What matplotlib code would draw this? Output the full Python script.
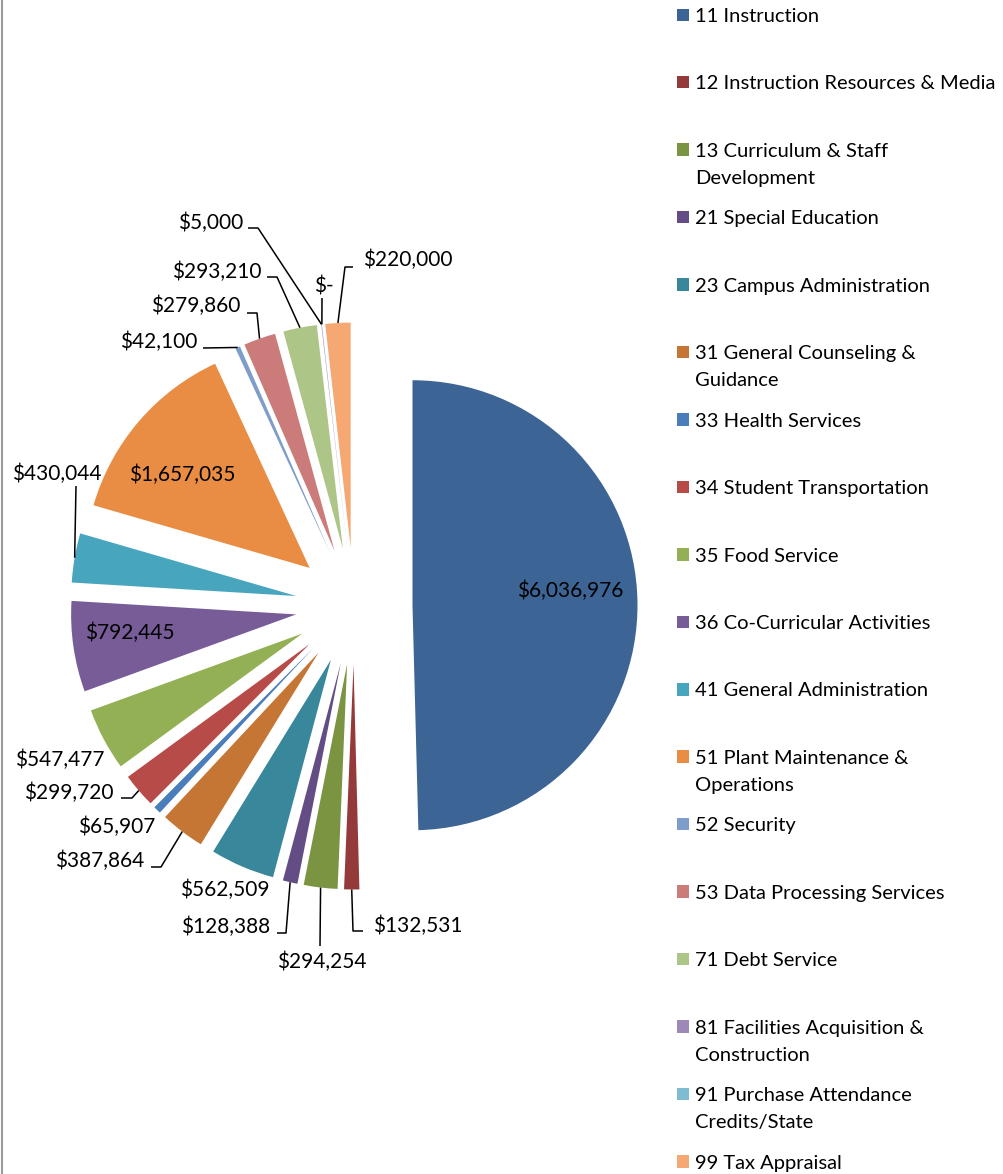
import matplotlib
matplotlib.use("Agg")
import matplotlib.pyplot as plt
import numpy as np
from matplotlib.patches import Rectangle
from matplotlib.lines import Line2D

# ---- data -------------------------------------------------------------
categories = [
    "11 Instruction",
    "12 Instruction Resources & Media",
    "13 Curriculum & Staff\nDevelopment",
    "21 Special Education",
    "23 Campus Administration",
    "31 General Counseling &\nGuidance",
    "33 Health Services",
    "34 Student Transportation",
    "35 Food Service",
    "36 Co-Curricular Activities",
    "41 General Administration",
    "51 Plant Maintenance &\nOperations",
    "52 Security",
    "53 Data Processing Services",
    "71 Debt Service",
    "81 Facilities Acquisition &\nConstruction",
    "91 Purchase Attendance\nCredits/State",
    "99 Tax Appraisal",
]
values = [
    6036976, 132531, 294254, 128388, 562509, 387864, 65907, 299720,
    547477, 792445, 430044, 1657035, 42100, 279860, 293210, 5000, 0, 220000,
]
colors = [
    "#3C6494", "#953A3A", "#7A9441", "#634D84", "#38879A", "#C57634",
    "#4A7EBB", "#B64B48", "#93B054", "#785C98", "#48A5BE", "#E88D43",
    "#7F9DCB", "#CB7B7A", "#ADC688", "#9C89B7", "#7DBCD1", "#F5A872",
]

FONT = "Lato"
FS_LEGEND = 14.5
FS_LABEL = 15.0

W, H = 1004, 1174
CX, CY, R = 354.0, 606.0, 225.0   # pie centre and radius in pixels


def px(x, y):
    """Pixel position (from top-left) -> data coordinates."""
    return (x - CX) / R, (CY - y) / R


fig = plt.figure(figsize=(W / 100, H / 100), dpi=100)
ax = fig.add_axes([0, 0, 1, 1])
ax.axis("off")

wedges, _ = ax.pie(
    values, colors=colors, startangle=90, counterclock=False,
    explode=[0.26] * len(values), radius=1.0,
    wedgeprops=dict(linewidth=0),
)
ax.set_xlim((0 - CX) / R, (W - CX) / R)
ax.set_ylim((CY - H) / R, (CY - 0) / R)
ax.set_aspect("auto")


def arc_mid(w):
    mid = np.deg2rad(0.5 * (w.theta1 + w.theta2))
    cx, cy = w.center
    return cx + w.r * np.cos(mid), cy + w.r * np.sin(mid)


def money(v):
    return "$-" if v == 0 else f"${v:,.0f}"


# label placement: (x, baseline y, ha, leader bend points) in pixels
label_layout = {
    0: (570, 597, "center", None),
    1: (373, 932, "left", [(353, 931), (363, 931)]),
    2: (322, 968, "center", [(320, 946)]),
    3: (270, 933, "right", [(286, 933), (277, 933)]),
    4: (225, 896, "center", None),
    5: (144, 867, "right", [(161, 867), (151, 867)]),
    6: (117, 833, "center", None),
    7: (114, 799, "right", [(132, 798), (121, 798)]),
    8: (60, 766, "center", None),
    9: (130, 639, "center", None),
    10: (57, 480, "center", [(76, 486)]),
    11: (182, 481, "center", None),
    12: (197, 348, "right", [(203, 348)]),
    13: (240, 312, "right", [(257, 313), (247, 313)]),
    14: (262, 278, "right", [(277, 277), (267, 277)]),
    15: (243, 229, "right", [(258, 228), (248, 228)]),
    16: (324, 292, "center", [(322, 298)]),
    17: (363, 266, "left", [(345, 267), (353, 267)]),
}

for i, (w, v) in enumerate(zip(wedges, values)):
    x, y, ha, bends = label_layout[i]
    tx, ty = px(x, y)
    ax.text(tx, ty, money(v), ha=ha, va="baseline", fontsize=FS_LABEL,
            family=FONT, color="black")
    if bends:
        ax0, ay0 = arc_mid(w)
        xs = [ax0] + [px(bx, by)[0] for bx, by in bends]
        ys = [ay0] + [px(bx, by)[1] for bx, by in bends]
        ax.plot(xs, ys, color="black", lw=1.1, solid_capstyle="butt")

# legend, drawn entry by entry on a fixed pitch
LEG_X, LEG_TX, LEG_Y0, LEG_STEP, LINE_STEP = 677, 695, 22, 67.45, 27
for i, (name, c) in enumerate(zip(categories, colors)):
    base = LEG_Y0 + LEG_STEP * i
    fig.patches.append(Rectangle(((LEG_X) / W, 1 - (base - 1) / H), 12.5 / W, 12.5 / H,
                                 transform=fig.transFigure, facecolor=c,
                                 edgecolor="none"))
    for k, line in enumerate(name.split("\n")):
        fig.text(LEG_TX / W, 1 - (base + k * LINE_STEP) / H, line,
                 ha="left", va="baseline", fontsize=FS_LEGEND, family=FONT,
                 color="black")

# thin frame line along the left edge
fig.add_artist(Line2D([2 / W, 2 / W], [0, 1], transform=fig.transFigure,
                      color="#9a9a9a", lw=1.5))

fig.savefig("out.png", dpi=100, facecolor="white")
